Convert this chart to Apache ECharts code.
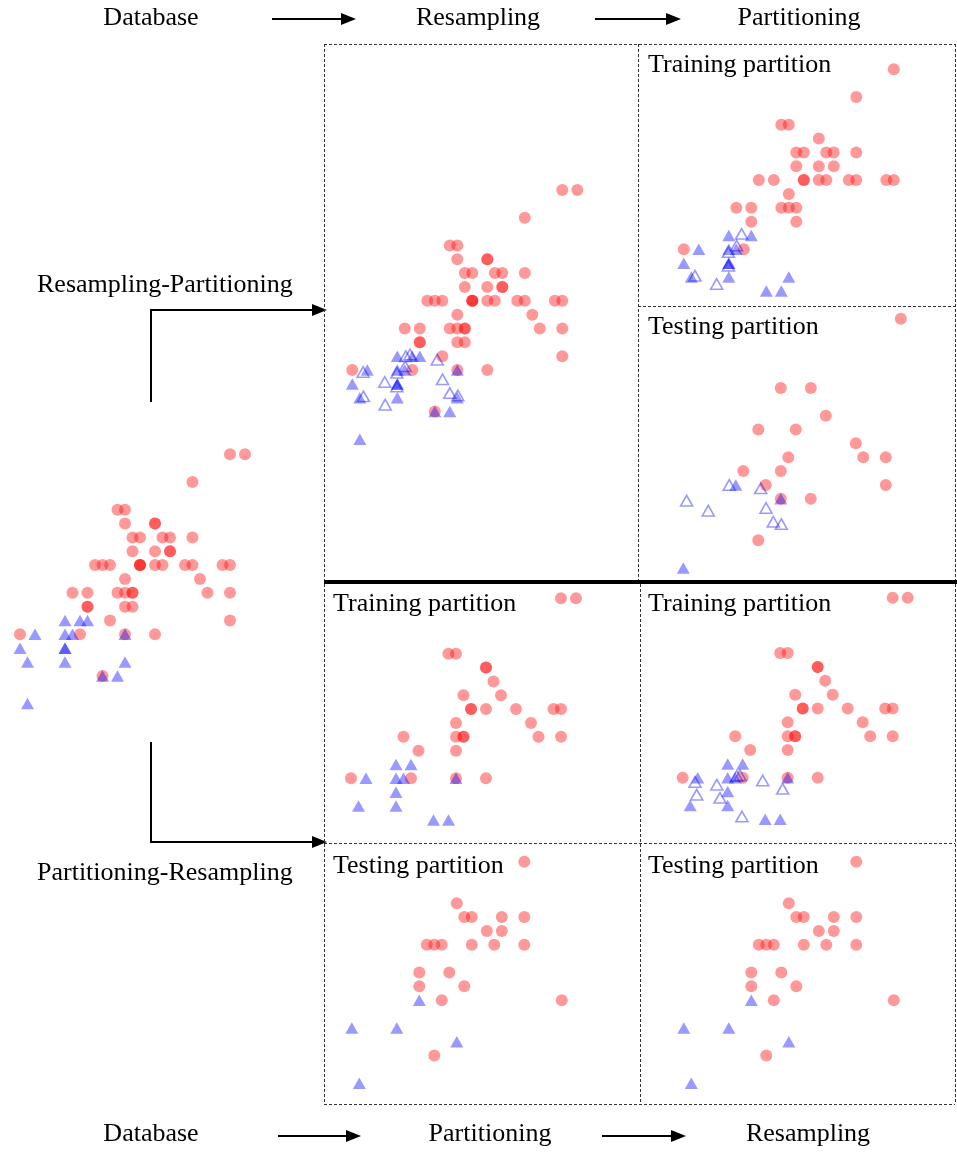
<!DOCTYPE html>
<html>
<head>
<meta charset="utf-8">
<script src="https://cdn.jsdelivr.net/npm/echarts@6/dist/echarts.min.js"></script>
<style>
html,body{margin:0;padding:0;background:#fff;}
#chart{width:957px;height:1152px;}
</style>
</head>
<body>
<div id="chart"></div>
<script>
// ---------- DATA (x, y grid units; y measured upward) ----------
const dbRed = [[28,18],[30,18],[23,16],[13,14],[14,14],[14,13],[18,13],[18,13],[15,12],[16,12],[19,12],[20,12],[23,12],[15,11],[18,11],[20,11],[20,11],[10,10],[11,10],[12,10],[16,10],[16,10],[16,10],[18,10],[19,10],[22,10],[23,10],[27,10],[28,10],[14,9],[24,9],[7,8],[9,8],[13,8],[14,8],[15,8],[15,8],[25,8],[28,8],[9,7],[9,7],[14,7],[15,7],[12,6],[28,6],[0,5],[8,5],[14,5],[18,5],[11,2]];
const dbBlue = [[6,6],[8,6],[9,6],[2,5],[6,5],[7,5],[14,5],[0,4],[6,4],[6,4],[1,3],[6,3],[14,3],[11,2],[13,2],[1,0]];

// Resampling -> Partitioning
const rpTrainRed = [[28,18],[23,16],[13,14],[14,14],[18,13],[15,12],[16,12],[19,12],[20,12],[23,12],[15,11],[18,11],[20,11],[10,10],[12,10],[16,10],[16,10],[18,10],[19,10],[22,10],[23,10],[27,10],[28,10],[14,9],[7,8],[9,8],[13,8],[14,8],[15,8],[9,7],[15,7],[0,5],[8,5]];
const rpTestRed = [[30,18],[14,13],[18,13],[20,11],[11,10],[16,10],[24,9],[15,8],[25,8],[28,8],[9,7],[14,7],[12,6],[28,6],[14,5],[18,5],[11,2]];
const rpTrainBlue = [[6,6],[9,6],[2,5],[6,5],[7,5],[0,4],[6,4],[6,4],[1,3],[6,3],[14,3],[11,2],[13,2]];
const rpTestBlue = [[8,6],[14,5],[1,0]];
const rpTrainSynth = [[7.7,6.12],[7.05,5.27],[5.94,4.8],[5.94,3.82],[1.49,3.1],[4.38,2.5]];
const rpTestSynth = [[1.45,4.86],[4.33,4.14],[7.13,6.0],[11.32,5.75],[12.03,4.33],[13.0,3.34],[14.07,3.17]];

// Partitioning -> Resampling
const prTrainRed = [[28,18],[30,18],[13,14],[14,14],[18,13],[18,13],[19,12],[15,11],[20,11],[16,10],[16,10],[18,10],[22,10],[27,10],[28,10],[14,9],[24,9],[7,8],[14,8],[15,8],[15,8],[25,8],[28,8],[9,7],[14,7],[0,5],[8,5],[14,5],[18,5]];
const prTestRed = [[23,16],[14,13],[15,12],[16,12],[20,12],[23,12],[18,11],[20,11],[10,10],[11,10],[12,10],[16,10],[19,10],[23,10],[9,8],[13,8],[9,7],[15,7],[12,6],[28,6],[11,2]];
const prTrainBlue = [[6,6],[8,6],[2,5],[6,5],[7,5],[14,5],[6,4],[1,3],[6,3],[11,2],[13,2]];
const prTestBlue = [[9,6],[0,4],[6,4],[14,3],[1,0]];
const prTrainSynth = [[1.64,4.7],[1.87,3.78],[4.55,4.5],[4.97,3.55],[7.2,5.13],[7.64,5.18],[10.67,4.8],[13.33,4.2],[7.9,2.2]];

// ---------- LAYOUT ----------
const XU = 7.5, YU = 13.85, XMAX = 30, YMAX = 18;
const panels = [
  {left: 20,    top: 454.3, red: dbRed,      blue: dbBlue,      synth: []},
  {left: 352.3, top: 190,   red: dbRed,      blue: dbBlue,      synth: rpTrainSynth.concat(rpTestSynth)},
  {left: 683.8, top: 69.3,  red: rpTrainRed, blue: rpTrainBlue, synth: rpTrainSynth},
  {left: 675.8, top: 318.7, red: rpTestRed,  blue: rpTestBlue,  synth: rpTestSynth},
  {left: 351,   top: 598.3, red: prTrainRed, blue: prTrainBlue, synth: []},
  {left: 351.8, top: 834,   red: prTestRed,  blue: prTestBlue,  synth: []},
  {left: 682.7, top: 597.7, red: prTrainRed, blue: prTrainBlue, synth: prTrainSynth},
  {left: 683.8, top: 834,   red: prTestRed,  blue: prTestBlue,  synth: []}
];

const RED = 'rgba(255,0,0,0.5)';
const BLUE = 'rgba(0,0,255,0.5)';
const grids = [], xAxes = [], yAxes = [], series = [];
panels.forEach((p, i) => {
  grids.push({left: p.left, top: p.top, width: XMAX * XU, height: YMAX * YU, containLabel: false});
  xAxes.push({gridIndex: i, type: 'value', min: 0, max: XMAX, show: false});
  yAxes.push({gridIndex: i, type: 'value', min: 0, max: YMAX, show: false});
  const common = {type: 'scatter', xAxisIndex: i, yAxisIndex: i, clip: false, silent: true, emphasis: {disabled: true}};
  series.push(Object.assign({}, common, {data: p.red, symbol: 'circle', symbolSize: 12, itemStyle: {color: RED}}));
  series.push(Object.assign({}, common, {data: p.blue, symbol: 'triangle', symbolSize: [13, 11.5], itemStyle: {color: BLUE}}));
  if (p.synth.length) {
    series.push(Object.assign({}, common, {data: p.synth, symbol: 'triangle', symbolSize: [12, 10.5],
      itemStyle: {color: 'rgba(255,255,255,0)', borderColor: BLUE, borderWidth: 1.6}}));
  }
});

const FONT = '26px "Liberation Serif", "Times New Roman", serif';
function txt(t, x, y, align) {
  return {type: 'text', x: x, y: y, silent: true,
    style: {text: t, font: FONT, fill: '#000', textAlign: align || 'left', textVerticalAlign: 'middle', verticalAlign: 'middle'}};
}
function dline(x1, y1, x2, y2) {
  return {type: 'line', silent: true, shape: {x1, y1, x2, y2}, style: {stroke: '#333', lineWidth: 1, lineDash: [3, 2]}};
}
function sline(x1, y1, x2, y2, w) {
  return {type: 'line', silent: true, shape: {x1, y1, x2, y2}, style: {stroke: '#000', lineWidth: w}};
}
function headR(x, y) {
  return {type: 'polygon', silent: true, shape: {points: [[x, y], [x - 15, y - 6], [x - 15, y + 6]]}, style: {fill: '#000'}};
}

const graphics = [
  // top flow
  txt('Database', 151, 18, 'center'),
  sline(272, 19, 342, 19, 2), headR(356, 19),
  txt('Resampling', 478, 18, 'center'),
  sline(595, 19, 667, 19, 2), headR(681, 19),
  txt('Partitioning', 799, 18, 'center'),
  // bottom flow
  txt('Database', 151, 1134, 'center'),
  sline(278, 1136, 347, 1136, 2), headR(361, 1136),
  txt('Partitioning', 490, 1134, 'center'),
  sline(602, 1136, 672, 1136, 2), headR(686, 1136),
  txt('Resampling', 808, 1134, 'center'),
  // left connectors
  txt('Resampling-Partitioning', 37, 285, 'left'),
  {type: 'polyline', silent: true, shape: {points: [[151, 402], [151, 310], [314, 310]]}, style: {stroke: '#000', lineWidth: 2, fill: null}},
  headR(327, 310),
  txt('Partitioning-Resampling', 37, 873, 'left'),
  {type: 'polyline', silent: true, shape: {points: [[151, 742], [151, 842], [314, 842]]}, style: {stroke: '#000', lineWidth: 2, fill: null}},
  headR(327, 842),
  // boxes
  dline(324, 44.5, 955, 44.5),
  dline(324.5, 44, 324.5, 1104),
  dline(955.5, 44, 955.5, 1104),
  dline(324, 1104.5, 955, 1104.5),
  dline(638.5, 44, 638.5, 581),
  dline(638, 306.5, 955, 306.5),
  dline(640.5, 584, 640.5, 1104),
  dline(324, 843.5, 955, 843.5),
  sline(324, 582, 957, 582, 4),
  // panel labels
  txt('Training partition', 648, 65, 'left'),
  txt('Testing partition', 648, 327, 'left'),
  txt('Training partition', 333, 604, 'left'),
  txt('Testing partition', 333, 866, 'left'),
  txt('Training partition', 648, 604, 'left'),
  txt('Testing partition', 648, 866, 'left')
];

const chart = echarts.init(document.getElementById('chart'), null, {renderer: 'canvas'});
chart.setOption({
  animation: false,
  backgroundColor: '#fff',
  grid: grids,
  xAxis: xAxes,
  yAxis: yAxes,
  series: series,
  graphic: graphics
});
</script>
</body>
</html>
